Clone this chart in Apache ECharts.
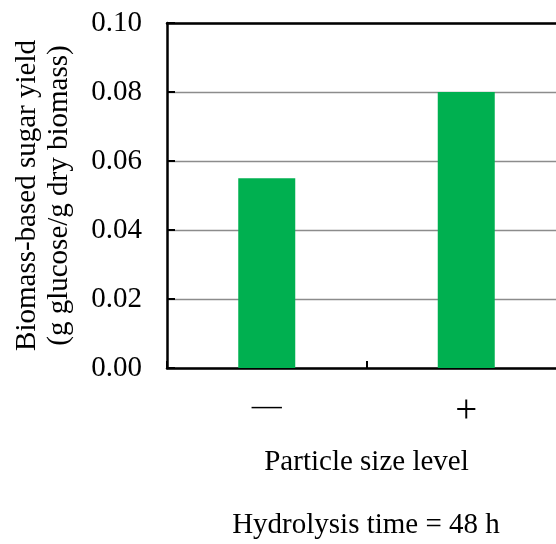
<!DOCTYPE html>
<html>
<head>
<meta charset="utf-8">
<script src="https://cdn.jsdelivr.net/npm/echarts@6/dist/echarts.min.js"></script>
<style>html,body{margin:0;padding:0;background:#fff;overflow:hidden;}#c{width:566px;height:544px;}</style>
</head>
<body>
<div id="c"></div>
<script>
const categories = ['—', '+'];
const yieldValues = [0.055, 0.080];
const yTicks = [0, 0.02, 0.04, 0.06, 0.08, 0.10];
const yName = 'Biomass-based sugar yield\n(g glucose/g dry biomass)';
const xName = 'Particle size level';
const footnote = 'Hydrolysis time = 48 h';

const FONT = '"Liberation Serif", "Times New Roman", serif';
const FS = 29;
const chart = echarts.init(document.getElementById('c'), null, {renderer: 'canvas'});
chart.setOption({
  animation: false,
  backgroundColor: '#fff',
  grid: {left: 167, top: 23, right: 0, bottom: 176, containLabel: false},
  xAxis: [{
    type: 'category',
    data: categories,
    position: 'bottom',
    axisLine: {show: true, lineStyle: {color: '#000', width: 2.5}},
    axisTick: {show: true, inside: true, length: 7, alignWithLabel: false, lineStyle: {color: '#000', width: 2}},
    axisLabel: {color: '#000', fontFamily: FONT, fontSize: FS, margin: 24,
      formatter: v => v === '+' ? '{p|' + v + '}' : '{d|' + v + '}',
      rich: {
        p: {fontFamily: FONT, fontSize: 39, color: '#000', padding: [0, 0, 2, 0]},
        d: {fontFamily: FONT, fontSize: 30, color: '#000'}
      }},
    name: xName,
    nameLocation: 'middle',
    nameGap: 80,
    nameTextStyle: {color: '#000', fontFamily: FONT, fontSize: FS},
    splitLine: {show: false}
  }, {
    type: 'category',
    data: categories,
    position: 'top',
    axisLine: {show: true, lineStyle: {color: '#000', width: 2.5}},
    axisTick: {show: false},
    axisLabel: {show: false},
    splitLine: {show: false}
  }],
  yAxis: {
    type: 'value',
    min: yTicks[0],
    max: yTicks[yTicks.length - 1],
    interval: 0.02,
    axisLine: {show: true, lineStyle: {color: '#000', width: 2.5}},
    axisTick: {show: true, inside: true, length: 8, lineStyle: {color: '#000', width: 2}},
    axisLabel: {color: '#000', fontFamily: FONT, fontSize: FS, margin: 25,
      formatter: v => v.toFixed(2)},
    splitLine: {show: true, lineStyle: {color: '#8c8c8c', width: 1.3}},
    name: yName,
    nameLocation: 'middle',
    nameRotate: 90,
    nameGap: 92,
    nameTextStyle: {color: '#000', fontFamily: FONT, fontSize: FS, lineHeight: 32, align: 'center'}
  },
  series: [{
    type: 'bar',
    data: yieldValues,
    barWidth: 57,
    itemStyle: {color: '#00b050'}
  }],
  graphic: [{
    type: 'text',
    x: 366, y: 525,
    style: {text: footnote, fill: '#000', font: FS + 'px ' + FONT, textAlign: 'center', textVerticalAlign: 'middle'}
  }]
});
</script>
</body>
</html>
